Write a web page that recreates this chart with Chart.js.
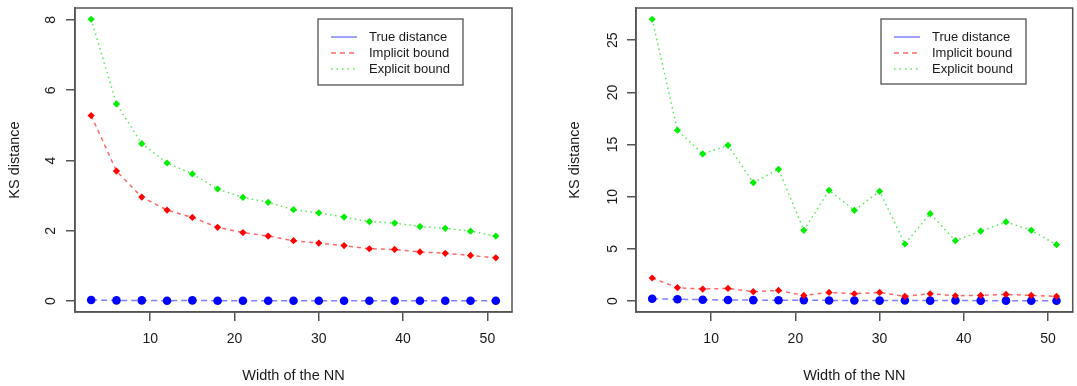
<!DOCTYPE html>
<html>
<head>
<meta charset="utf-8">
<title>KS distance vs width of the NN</title>
<script src="https://cdn.jsdelivr.net/npm/chart.js@4.4.0/dist/chart.umd.min.js"></script>
<style>
    html, body { margin: 0; padding: 0; background: #fff; }
    .wrap { position: relative; width: 1077px; height: 386px; overflow: hidden; }
    .panel { position: absolute; top: 0; height: 386px; }
    #panelLeft { left: 0; width: 540px; }
    #panelRight { left: 540px; width: 537px; }
</style>
</head>
<body>
<div class="wrap">
    <div class="panel" id="panelLeft"><canvas id="leftChart"></canvas></div>
    <div class="panel" id="panelRight"><canvas id="rightChart"></canvas></div>
</div>
<script>
// widths of the network (x values)
const widths = [3, 6, 9, 12, 15, 18, 21, 24, 27, 30, 33, 36, 39, 42, 45, 48, 51];

// left panel
const trueLeft = [0.03, 0.02, 0.02, 0.01, 0.02, 0.01, 0.01, 0.01, 0.01, 0.01, 0.01, 0.01, 0.01, 0.01, 0.01, 0.01, 0.01];
const implicitLeft = [5.28, 3.70, 2.96, 2.59, 2.38, 2.10, 1.95, 1.85, 1.72, 1.65, 1.58, 1.49, 1.47, 1.40, 1.36, 1.30, 1.23];
const explicitLeft = [8.02, 5.61, 4.48, 3.93, 3.62, 3.19, 2.95, 2.81, 2.60, 2.51, 2.39, 2.26, 2.22, 2.12, 2.07, 1.99, 1.85];

// right panel
const trueRight = [0.22, 0.17, 0.13, 0.10, 0.09, 0.07, 0.09, 0.06, 0.06, 0.04, 0.06, 0.04, 0.05, 0.04, 0.04, 0.03, 0.03];
const implicitRight = [2.21, 1.28, 1.15, 1.21, 0.90, 1.02, 0.54, 0.83, 0.70, 0.83, 0.45, 0.70, 0.51, 0.54, 0.64, 0.54, 0.45];
const explicitRight = [27.01, 16.37, 14.10, 14.93, 11.35, 12.63, 6.78, 10.61, 8.70, 10.52, 5.47, 8.38, 5.79, 6.71, 7.58, 6.78, 5.40];

// tick labels
const xTicks = [10, 20, 30, 40, 50];
const yTicksLeft = [0, 2, 4, 6, 8];
const yTicksRight = [0, 5, 10, 15, 20, 25];

const seriesLabels = ['True distance', 'Implicit bound', 'Explicit bound'];

const FONT = '"Liberation Sans", Arial, Helvetica, sans-serif';
const TEXT_COLOR = '#1a1a1a';
const AXIS_COLOR = '#555';

/**
 * R style axis range: data range stretched by 4% on both ends
 */
function extendRange(values) {
    const lo = Math.min(...values);
    const hi = Math.max(...values);
    const pad = (hi - lo) * 0.04;
    return [lo - pad, hi + pad];
}

/**
 * Box around the plot region
 */
const framePlugin = {
    id: 'rFrame',
    afterDraw(chart) {
        const a = chart.chartArea;
        const ctx = chart.ctx;
        ctx.save();
        ctx.strokeStyle = AXIS_COLOR;
        ctx.lineWidth = 1.5;
        ctx.strokeRect(a.left, a.top, a.right - a.left, a.bottom - a.top);
        ctx.restore();
    }
};

/**
 * Y tick labels drawn parallel to the axis, like R does
 */
const yLabelPlugin = {
    id: 'rYLabels',
    afterDraw(chart, args, opts) {
        const scale = chart.scales.y;
        const ctx = chart.ctx;
        ctx.save();
        ctx.fillStyle = TEXT_COLOR;
        ctx.font = '14px ' + FONT;
        ctx.textAlign = 'center';
        ctx.textBaseline = 'middle';
        scale.ticks.forEach(tick => {
            const py = scale.getPixelForValue(tick.value);
            ctx.save();
            ctx.translate(opts.x, py);
            ctx.rotate(-Math.PI / 2);
            ctx.fillText(tick.label, 0, 0);
            ctx.restore();
        });
        ctx.restore();
    }
};

/**
 * Legend box in the top right corner
 */
const legendPlugin = {
    id: 'rLegend',
    afterDraw(chart, args, opts) {
        const ctx = chart.ctx;
        ctx.save();
        ctx.fillStyle = '#fff';
        ctx.fillRect(opts.x, opts.y, opts.width, opts.height);
        ctx.strokeStyle = '#444';
        ctx.lineWidth = 1.2;
        ctx.strokeRect(opts.x, opts.y, opts.width, opts.height);

        ctx.font = '13px ' + FONT;
        ctx.textBaseline = 'middle';
        chart.data.datasets.forEach((ds, i) => {
            const cy = opts.y + 18 + i * 16;
            ctx.strokeStyle = ds.borderColor;
            ctx.lineWidth = ds.borderWidth;
            ctx.setLineDash(ds.legendDash);
            ctx.beginPath();
            ctx.moveTo(opts.x + 13, cy);
            ctx.lineTo(opts.x + 39, cy);
            ctx.stroke();
            ctx.setLineDash([]);
            ctx.fillStyle = TEXT_COLOR;
            ctx.fillText(ds.label, opts.x + 51, cy);
        });
        ctx.restore();
    }
};

/**
 * Build the three series for one panel
 */
function buildDatasets(trueVals, implicitVals, explicitVals) {
    const toPoints = vals => vals.map((v, i) => ({ x: widths[i], y: v }));
    return [
        {
            label: seriesLabels[0],
            data: toPoints(trueVals),
            borderColor: 'rgba(60, 60, 255, 0.65)',
            borderWidth: 1.5,
            borderDash: [6, 4],
            legendDash: [],
            pointStyle: 'circle',
            pointRadius: 4.3,
            pointBackgroundColor: '#0000ff',
            pointBorderColor: '#0000ff',
            pointBorderWidth: 0,
            order: 3
        },
        {
            label: seriesLabels[1],
            data: toPoints(implicitVals),
            borderColor: 'rgba(255, 40, 40, 0.7)',
            borderWidth: 1.5,
            borderDash: [4, 4],
            legendDash: [5, 4],
            pointStyle: 'rectRot',
            pointRadius: 3.6,
            pointBackgroundColor: '#ff0000',
            pointBorderColor: '#ff0000',
            pointBorderWidth: 0,
            order: 2
        },
        {
            label: seriesLabels[2],
            data: toPoints(explicitVals),
            borderColor: 'rgba(40, 230, 40, 0.8)',
            borderWidth: 1.5,
            borderDash: [1.5, 3.5],
            legendDash: [1.5, 4],
            pointStyle: 'rectRot',
            pointRadius: 3.6,
            pointBackgroundColor: '#00ee00',
            pointBorderColor: '#00ee00',
            pointBorderWidth: 0,
            order: 1
        }
    ];
}

/**
 * Create one R-like panel
 */
function createPanel(canvasId, datasets, yTicks, cfg) {
    const xRange = extendRange(widths);
    const allY = [].concat(...datasets.map(ds => ds.data.map(p => p.y)));
    const yRange = extendRange(allY);

    return new Chart(document.getElementById(canvasId), {
        type: 'line',
        data: { datasets: datasets },
        plugins: [framePlugin, yLabelPlugin, legendPlugin],
        options: {
            responsive: true,
            maintainAspectRatio: false,
            animation: false,
            devicePixelRatio: 1,
            layout: { padding: { left: 0, top: 8, right: cfg.right, bottom: 0 } },
            plugins: {
                legend: { display: false },
                tooltip: { enabled: false },
                rYLabels: { x: cfg.labelX },
                rLegend: cfg.legend
            },
            scales: {
                x: {
                    type: 'linear',
                    min: xRange[0],
                    max: xRange[1],
                    afterBuildTicks: scale => { scale.ticks = xTicks.map(v => ({ value: v })); },
                    afterFit: scale => { scale.height = 74; },
                    grid: { drawOnChartArea: false, drawTicks: true, tickLength: 9, color: AXIS_COLOR, lineWidth: 1.5 },
                    border: { display: true, color: AXIS_COLOR, width: 1.5 },
                    ticks: { color: TEXT_COLOR, font: { family: FONT, size: 14 }, padding: 10, maxRotation: 0 },
                    title: {
                        display: true,
                        text: 'Width of the NN',
                        color: TEXT_COLOR,
                        font: { family: FONT, size: 14.5 },
                        padding: { top: 0, bottom: 1 }
                    }
                },
                y: {
                    type: 'linear',
                    min: yRange[0],
                    max: yRange[1],
                    afterBuildTicks: scale => { scale.ticks = yTicks.map(v => ({ value: v })); },
                    afterFit: scale => { scale.width = cfg.left; },
                    grid: { drawOnChartArea: false, drawTicks: true, tickLength: 9, color: AXIS_COLOR, lineWidth: 1.5 },
                    border: { display: true, color: AXIS_COLOR, width: 1.5 },
                    ticks: { display: false },
                    title: {
                        display: true,
                        text: 'KS distance',
                        color: TEXT_COLOR,
                        font: { family: FONT, size: 14.5 },
                        padding: { top: cfg.titlePad, bottom: 0 }
                    }
                }
            }
        }
    });
}

document.addEventListener('DOMContentLoaded', function() {
    createPanel('leftChart', buildDatasets(trueLeft, implicitLeft, explicitLeft), yTicksLeft, {
        left: 75, right: 28, labelX: 51, titlePad: 6,
        legend: { x: 318, y: 19, width: 145, height: 66 }
    });
    createPanel('rightChart', buildDatasets(trueRight, implicitRight, explicitRight), yTicksRight, {
        left: 96, right: 2, labelX: 73, titlePad: 26,
        legend: { x: 341, y: 19, width: 145, height: 65 }
    });
});
</script>
</body>
</html>
